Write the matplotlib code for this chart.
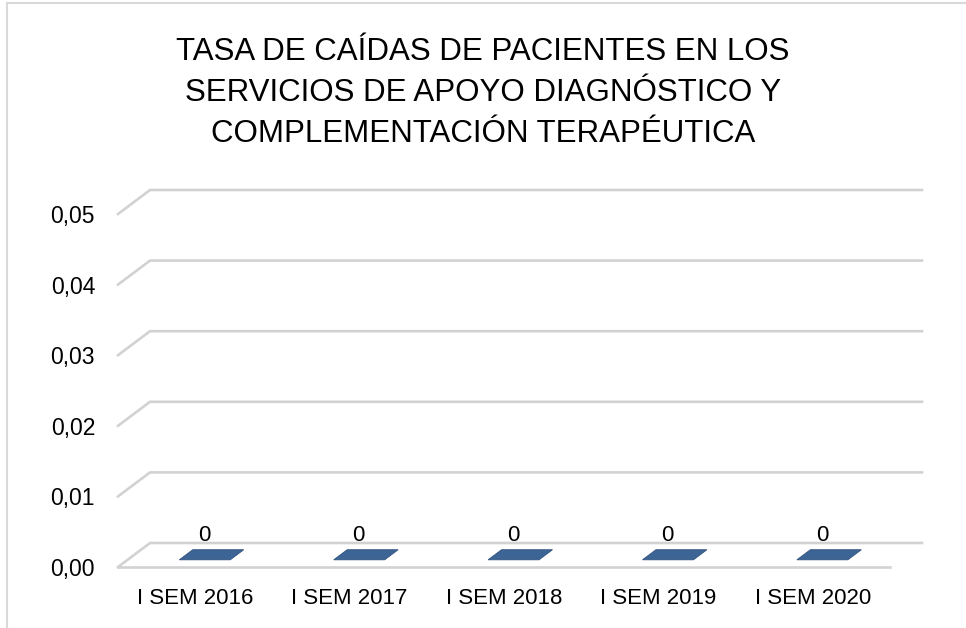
import matplotlib
matplotlib.use("Agg")
import matplotlib.pyplot as plt
import numpy as np
from matplotlib.lines import Line2D
from matplotlib.patches import Polygon

# Data
categories = ["I SEM 2016", "I SEM 2017", "I SEM 2018", "I SEM 2019", "I SEM 2020"]
values = [0, 0, 0, 0, 0]
value_labels = ["0", "0", "0", "0", "0"]
y_ticks = [0.00, 0.01, 0.02, 0.03, 0.04, 0.05]
y_tick_labels = ["0,00", "0,01", "0,02", "0,03", "0,04", "0,05"]
title = ("TASA DE CAÍDAS DE PACIENTES EN LOS\n"
         "SERVICIOS DE APOYO DIAGNÓSTICO Y\n"
         "COMPLEMENTACIÓN TERAPÉUTICA")

plt.rcParams['font.family'] = ['Liberation Sans', 'DejaVu Sans']

W, H = 966, 628
fig = plt.figure(figsize=(W / 100, H / 100), dpi=100)
ax = fig.add_axes([118 / W, 61 / H, 772 / W, 353 / H])
ax.set_xlim(-0.5, len(categories) - 0.5)
ax.set_ylim(0, 0.05)
for s in ax.spines.values():
    s.set_visible(False)
ax.patch.set_alpha(0)

# 3D depth offset in pixels
DX, DY = 32, 24
grid_col = "#d2d2d2"

def disp(x, y, f=0.0):
    p = ax.transData.transform((x, y))
    return p[0] + DX * f, p[1] + DY * f

ident = matplotlib.transforms.IdentityTransform()
x0, x1 = ax.get_xlim()
for v in y_ticks:
    fl = disp(x0, v)
    bl = disp(x0, v, 1)
    br = disp(x1, v, 1)
    xs, ys = [fl[0], bl[0], br[0]], [fl[1], bl[1], br[1]]
    ax.add_line(Line2D(xs, ys, transform=ident, color=grid_col, lw=1.9,
                       clip_on=False, solid_joinstyle='miter'))
# floor front edge
fr = disp(x1, 0)
fl = disp(x0, 0)
ax.add_line(Line2D([fl[0], fr[0]], [fl[1], fr[1]], transform=ident,
                   color=grid_col, lw=1.9, clip_on=False))

# bars (zero height -> only the top face shows)
bw = 0.33
f0, f1 = 0.3, 0.72
bar_col = "#3c6494"
for i, val in enumerate(values):
    a = disp(i - bw / 2, val, f0)
    b = disp(i + bw / 2, val, f0)
    c = disp(i + bw / 2, val, f1)
    d = disp(i - bw / 2, val, f1)
    ax.add_patch(Polygon([a, b, c, d], closed=True, transform=ident,
                         facecolor=bar_col, edgecolor="#2f5380", lw=0.6,
                         clip_on=False))
    if val > 0:
        a0 = disp(i - bw / 2, 0, f0)
        b0 = disp(i + bw / 2, 0, f0)
        ax.add_patch(Polygon([a0, b0, b, a], closed=True, transform=ident,
                             facecolor=bar_col, clip_on=False))
    ax.annotate(value_labels[i], xy=(i, val), xytext=(6.5, 23),
                textcoords='offset points', ha='center', va='center',
                fontsize=16, color='black')

ax.set_xticks(range(len(categories)))
ax.set_xticklabels(categories, fontsize=16)
ax.set_yticks(y_ticks)
ax.set_yticklabels(y_tick_labels, fontsize=16.5)
ax.tick_params(axis='x', length=0, pad=15)
ax.tick_params(axis='y', length=0, pad=16.5)

fig.text(0.5, 1 - 93 / H, title, ha='center', va='center',
         multialignment='center', fontsize=22.5, linespacing=1.46)

# chart border (left and top visible)
fig.add_artist(Line2D([7 / W, 7 / W], [0, 1 - 3 / H], transform=fig.transFigure,
                      color="#d9d9d9", lw=1.5))
fig.add_artist(Line2D([7 / W, 1], [1 - 3 / H, 1 - 3 / H], transform=fig.transFigure,
                      color="#d9d9d9", lw=1.5))

fig.savefig("out.png", dpi=100)
